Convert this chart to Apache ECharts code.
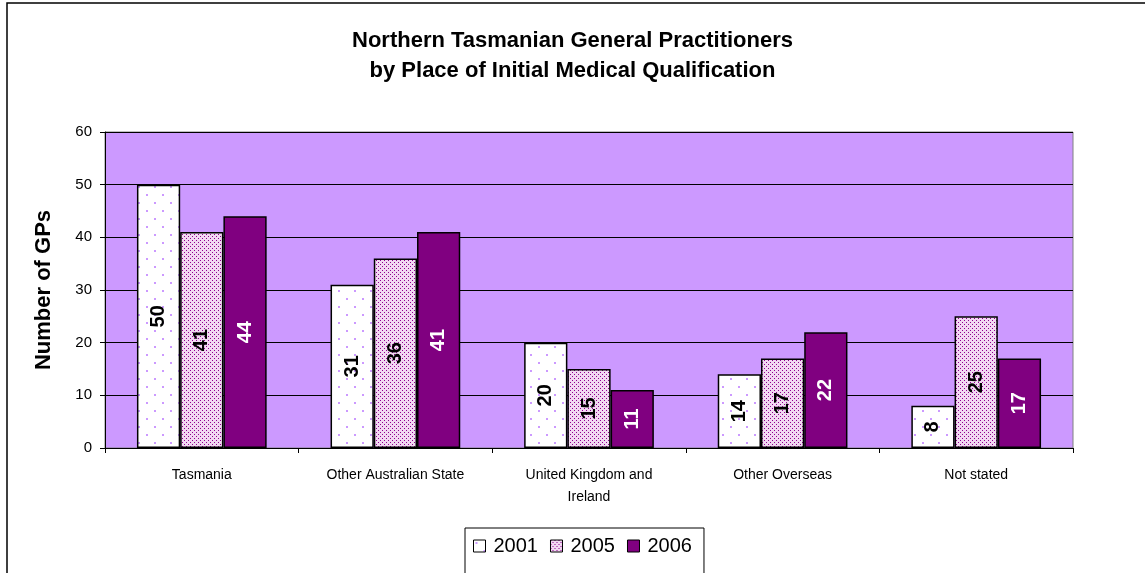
<!DOCTYPE html>
<html>
<head>
<meta charset="utf-8">
<script src="https://cdn.jsdelivr.net/npm/echarts@6/dist/echarts.min.js"></script>
<style>
html,body{margin:0;padding:0;background:#fff;}
#chart{width:1145px;height:573px;}
</style>
</head>
<body>
<div id="chart"></div>
<script>
const categories = ['Tasmania', 'Other Australian State', 'United Kingdom and\nIreland', 'Other Overseas', 'Not stated'];
const seriesNames = ['2001', '2005', '2006'];
const values2001 = [50, 31, 20, 14, 8];
const values2005 = [41, 36, 15, 17, 25];
const values2006 = [44, 41, 11, 22, 17];
const yTicks = [0, 10, 20, 30, 40, 50, 60];

function makePattern(size, bg, dots, dotColor, dotSize) {
  const c = document.createElement('canvas');
  c.width = size; c.height = size;
  const ctx = c.getContext('2d');
  ctx.fillStyle = bg; ctx.fillRect(0, 0, size, size);
  ctx.fillStyle = dotColor;
  dots.forEach(d => ctx.fillRect(d[0], d[1], dotSize, dotSize));
  return { image: c, repeat: 'repeat' };
}
const pat2001 = makePattern(16, '#ffffff', [[2, 2], [10, 10]], '#cc99ff', 2);
const pat2005 = makePattern(4, '#f2d8f2', [[0, 0], [2, 2]], '#900090', 1);

const chart = echarts.init(document.getElementById('chart'), null, { renderer: 'canvas' });

const FONT = 'Liberation Sans, Arial, sans-serif';
const labelCommon = {
  show: true, position: 'inside', rotate: 90,
  fontFamily: FONT, fontWeight: 'bold', fontSize: 20
};

chart.setOption({
  animation: false,
  backgroundColor: '#ffffff',
  graphic: [{
    type: 'rect', shape: { x: 7, y: 3, width: 1160, height: 600 },
    style: { fill: 'none', stroke: '#000', lineWidth: 1.5 }, silent: true, z: -1
  }],
  title: {
    text: 'Northern Tasmanian General Practitioners\nby Place of Initial Medical Qualification',
    left: 'center', top: 21,
    textStyle: { fontFamily: FONT, fontWeight: 'bold', fontSize: 22, lineHeight: 30, color: '#000' }
  },
  legend: {
    data: seriesNames,
    left: 465, top: 528,
    padding: [8, 12, 30, 8],
    borderColor: '#000', borderWidth: 1,
    itemWidth: 12, itemHeight: 12, itemGap: 12,
    icon: 'rect',
    itemStyle: { borderColor: '#000', borderWidth: 1 },
    textStyle: { fontFamily: FONT, fontSize: 20, color: '#000', padding: [0, 0, 0, 3] }
  },
  grid: {
    left: 105, right: 72, top: 132, bottom: 125,
    show: true, backgroundColor: '#cc99ff', borderColor: '#808080', borderWidth: 1
  },
  xAxis: {
    type: 'category', data: categories,
    axisLine: { lineStyle: { color: '#000', width: 1 } },
    axisTick: { show: true, length: 5, lineStyle: { color: '#000' } },
    axisLabel: { fontFamily: FONT, fontSize: 14, color: '#000', margin: 16, lineHeight: 22 }
  },
  yAxis: {
    type: 'value', min: 0, max: 60, interval: 10,
    name: 'Number of GPs', nameLocation: 'middle', nameGap: 50,
    nameTextStyle: { fontFamily: FONT, fontWeight: 'bold', fontSize: 22, color: '#000' },
    axisLine: { show: true, lineStyle: { color: '#000', width: 1 } },
    axisTick: { show: true, length: 5, lineStyle: { color: '#000' } },
    splitLine: { lineStyle: { color: '#000', width: 1 } },
    axisLabel: {
      fontFamily: FONT, fontSize: 15, color: '#000', margin: 13,
      formatter: v => yTicks.includes(v) ? String(v) : ''
    }
  },
  series: [
    { name: '2001', type: 'bar', data: values2001, barGap: '0%', barCategoryGap: '33%',
      itemStyle: { color: pat2001, borderColor: '#000', borderWidth: 1.5 },
      label: Object.assign({ color: '#000' }, labelCommon) },
    { name: '2005', type: 'bar', data: values2005, barGap: '0%', barCategoryGap: '33%',
      itemStyle: { color: pat2005, borderColor: '#000', borderWidth: 1.5 },
      label: Object.assign({ color: '#000' }, labelCommon) },
    { name: '2006', type: 'bar', data: values2006, barGap: '0%', barCategoryGap: '33%',
      itemStyle: { color: '#800080', borderColor: '#000', borderWidth: 1.5 },
      label: Object.assign({ color: '#fff' }, labelCommon) }
  ]
});
</script>
</body>
</html>
